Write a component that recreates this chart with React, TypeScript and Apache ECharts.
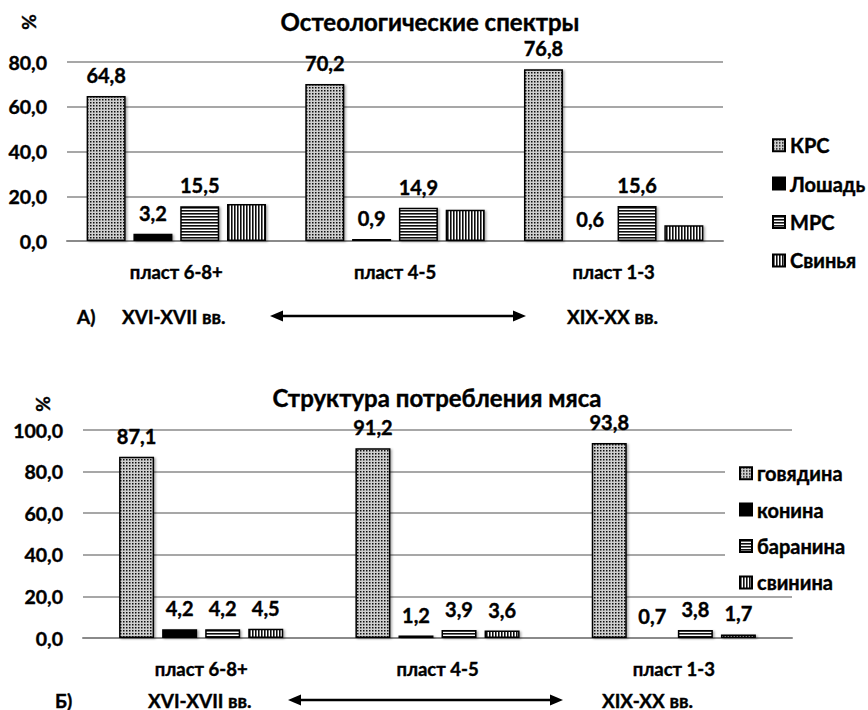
import React, { useEffect, useRef } from "react";
import * as echarts from "echarts";

const categories = ["пласт 6-8+", "пласт 4-5", "пласт 1-3"];
const yTicksTop = [0, 20, 40, 60, 80];
const yTicksBottom = [0, 20, 40, 60, 80, 100];

const osteoNames = ["КРС", "Лошадь", "МРС", "Свинья"];
const osteoKRS = [64.8, 70.2, 76.8];
const osteoHorse = [3.2, 0.9, 0.6];
const osteoMRS = [15.5, 14.9, 15.6];
const osteoPig = [16.5, 14.0, 7.0];

const meatNames = ["говядина", "конина", "баранина", "свинина"];
const meatBeef = [87.1, 91.2, 93.8];
const meatHorse = [4.2, 1.2, 0.7];
const meatMutton = [4.2, 3.9, 3.8];
const meatPork = [4.5, 3.6, 1.7];

const FONT = "Lato";
const TB = 0.4; // slight text thickening

function makeCanvas(w: number, h: number, draw: (c: CanvasRenderingContext2D) => void) {
  const cv = document.createElement("canvas");
  cv.width = w;
  cv.height = h;
  const ctx = cv.getContext("2d")!;
  draw(ctx);
  return cv;
}

export default function App() {
  const ref = useRef<HTMLDivElement>(null);

  useEffect(() => {
    const chart = echarts.init(ref.current!, null, { renderer: "svg" });

    const dots = makeCanvas(3, 3, (c) => {
      c.fillStyle = "#cfcfcf";
      c.fillRect(0, 0, 3, 3);
      c.fillStyle = "#111";
      c.fillRect(0, 0, 1.5, 1.5);
    });
    const hStripes = makeCanvas(3, 3, (c) => {
      c.fillStyle = "#ffffff";
      c.fillRect(0, 0, 3, 3);
      c.fillStyle = "#111";
      c.fillRect(0, 0, 3, 1.6);
    });
    const vStripes = makeCanvas(3, 3, (c) => {
      c.fillStyle = "#ffffff";
      c.fillRect(0, 0, 3, 3);
      c.fillStyle = "#111";
      c.fillRect(0, 0, 1.6, 3);
    });

    const fills: any[] = [
      { image: dots, repeat: "repeat" },
      "#000000",
      { image: hStripes, repeat: "repeat" },
      { image: vStripes, repeat: "repeat" },
    ];

    const fmt = (v: number) => v.toFixed(1).replace(".", ",");

    const boldText = (size: number) => ({
      color: "#000",
      fontFamily: FONT,
      fontWeight: "bold",
      fontSize: size,
      textBorderColor: "#000",
      textBorderWidth: TB,
    });

    const labelStyle = (show: boolean) => ({
      show,
      position: "top",
      distance: 11,
      ...boldText(20),
      formatter: (p: any) => fmt(p.value),
    });

    const mkSeries = (
      names: string[],
      data: number[][],
      axisIndex: number,
      barWidth: number,
      gap: string,
      labelShow: boolean[]
    ) =>
      names.map((n, i) => ({
        type: "bar",
        name: n,
        xAxisIndex: axisIndex,
        yAxisIndex: axisIndex,
        data: data[i],
        barWidth,
        barGap: gap,
        itemStyle: {
          color: fills[i],
          borderColor: "#000",
          borderWidth: 1.5,
          shadowColor: "rgba(0,0,0,0.35)",
          shadowBlur: 2,
          shadowOffsetX: 1.5,
          shadowOffsetY: 1,
        },
        label: labelStyle(labelShow[i]),
      }));

    const yAxisBase = (max: number, margin: number) => ({
      type: "value",
      min: 0,
      max,
      interval: 20,
      axisLine: { show: false },
      axisTick: { show: false },
      splitLine: { lineStyle: { color: "#8a8a8a", width: 1.5 } },
      axisLabel: {
        margin,
        ...boldText(19.5),
        formatter: (v: number) => fmt(v),
      },
    });

    const xAxisBase = (gridIndex: number) => ({
      type: "category",
      gridIndex,
      data: categories,
      axisLine: { lineStyle: { color: "#8a8a8a", width: 2 } },
      axisTick: { show: false },
      axisLabel: {
        margin: 21,
        ...boldText(18.5),
      },
    });

    const textEl = (text: string, x: number, y: number, size: number, align = "left", rotation = 0) => ({
      type: "text",
      x,
      y,
      rotation,
      style: {
        text,
        fill: "#000",
        stroke: "#000",
        lineWidth: TB,
        font: `bold ${size}px ${FONT}`,
        textAlign: align,
        textVerticalAlign: "middle",
      },
    });

    const arrow = (x1: number, x2: number, y: number) => [
      {
        type: "line",
        shape: { x1: x1 + 8, y1: y, x2: x2 - 8, y2: y },
        style: { stroke: "#000", lineWidth: 2.5 },
      },
      {
        type: "polygon",
        shape: { points: [[x1, y], [x1 + 13, y - 5.5], [x1 + 13, y + 5.5]] },
        style: { fill: "#000" },
      },
      {
        type: "polygon",
        shape: { points: [[x2, y], [x2 - 13, y - 5.5], [x2 - 13, y + 5.5]] },
        style: { fill: "#000" },
      },
    ];

    const legendBase = {
      orient: "vertical",
      icon: "rect",
      itemWidth: 12,
      itemHeight: 12,
      textStyle: {
        ...boldText(20),
        lineHeight: 20,
        padding: [0, 0, 0, 0],
      },
    };

    chart.setOption({
      animation: false,
      backgroundColor: "#ffffff",
      textStyle: { fontFamily: FONT },
      grid: [
        { left: 67, right: 145, top: 62, bottom: 469, containLabel: false },
        { left: 83, right: 76, top: 430, bottom: 72, containLabel: false },
      ],
      xAxis: [xAxisBase(0), xAxisBase(1)],
      yAxis: [
        { ...yAxisBase(80, 20), gridIndex: 0 },
        { ...yAxisBase(100, 20), gridIndex: 1 },
      ],
      legend: [
        {
          ...legendBase,
          data: osteoNames,
          left: 772,
          top: 135,
          padding: 0,
          itemGap: 18,
        },
        {
          ...legendBase,
          data: meatNames,
          left: 725,
          top: 457,
          padding: [6, 14, 3, 14],
          itemGap: 16,
          backgroundColor: "#ffffff",
        },
      ],
      series: [
        ...mkSeries(osteoNames, [osteoKRS, osteoHorse, osteoMRS, osteoPig], 0, 39, "20%", [true, true, true, false]),
        ...mkSeries(meatNames, [meatBeef, meatHorse, meatMutton, meatPork], 1, 35, "23%", [true, true, true, true]),
      ],
      graphic: [
        textEl("Остеологические спектры", 430, 21, 24, "center"),
        textEl("Структура потребления мяса", 437, 397, 24, "center"),
        textEl("%", 28, 22, 19, "center", Math.PI / 2),
        textEl("%", 42, 404, 19, "center", Math.PI / 2),
        textEl("А)", 77, 316, 19),
        textEl("XVI-XVII вв.", 122, 316, 19),
        textEl("XIX-XX вв.", 567, 316, 19),
        ...arrow(270, 526, 316),
        textEl("Б)", 55, 700, 19),
        textEl("XVI-XVII вв.", 148, 700, 19),
        textEl("XIX-XX вв.", 602, 700, 19),
        ...arrow(288, 563, 700),
      ],
    });

    return () => chart.dispose();
  }, []);

  return (
    <div
      ref={ref}
      style={{ position: "absolute", left: 0, top: 0, width: 868, height: 710 }}
    />
  );
}
